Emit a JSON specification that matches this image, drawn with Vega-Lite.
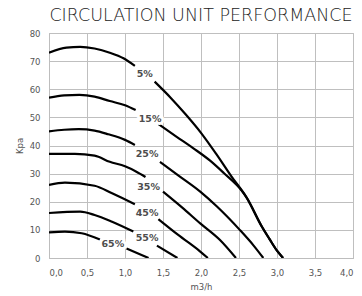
{
  "$schema": "https://vega.github.io/schema/vega-lite/v6.json",
  "width": 304,
  "height": 225,
  "autosize": {"type": "none"},
  "padding": {"left": 49, "top": 33, "right": 9, "bottom": 38},
  "background": "white",
  "title": {"text": "CIRCULATION UNIT PERFORMANCE", "font": "DejaVu Sans", "fontSize": 17.5, "fontWeight": 200, "color": "#222222", "offset": 5, "anchor": "middle"},
  "config": {
    "view": {"stroke": "#bdbdbd", "strokeWidth": 1},
    "axis": {
      "labelFont": "DejaVu Sans", "labelFontSize": 8.5, "labelColor": "#555555",
      "titleFont": "DejaVu Sans", "titleFontSize": 8.5, "titleColor": "#555555", "titleFontWeight": "normal",
      "gridColor": "#bfbfbf", "gridWidth": 1, "domainColor": "#bdbdbd",
      "ticks": false, "tickSize": 0
    }
  },
  "datasets": {
    "curves": [
      {"seg": "5a", "x": 0, "y": 73}, {"seg": "5a", "x": 0.23, "y": 74.8}, {"seg": "5a", "x": 0.41, "y": 75.1}, {"seg": "5a", "x": 0.6, "y": 74.5}, {"seg": "5a", "x": 0.8, "y": 73}, {"seg": "5a", "x": 0.98, "y": 71}, {"seg": "5a", "x": 1.13, "y": 68.3},
      {"seg": "5b", "x": 1.39, "y": 62.7}, {"seg": "5b", "x": 1.6, "y": 57}, {"seg": "5b", "x": 1.8, "y": 51}, {"seg": "5b", "x": 2.0, "y": 44.5}, {"seg": "5b", "x": 2.2, "y": 37}, {"seg": "5b", "x": 2.4, "y": 29}, {"seg": "5b", "x": 2.6, "y": 21.5}, {"seg": "5b", "x": 2.8, "y": 11.2}, {"seg": "5b", "x": 2.9, "y": 6.8}, {"seg": "5b", "x": 3.0, "y": 2.6}, {"seg": "5b", "x": 3.08, "y": 0},
      {"seg": "15a", "x": 0, "y": 57}, {"seg": "15a", "x": 0.2, "y": 57.8}, {"seg": "15a", "x": 0.4, "y": 58}, {"seg": "15a", "x": 0.6, "y": 57.4}, {"seg": "15a", "x": 0.8, "y": 55.8}, {"seg": "15a", "x": 1.0, "y": 54.3}, {"seg": "15a", "x": 1.14, "y": 52.6},
      {"seg": "15b", "x": 1.44, "y": 47.6}, {"seg": "15b", "x": 1.68, "y": 43.1}, {"seg": "15b", "x": 1.9, "y": 39}, {"seg": "15b", "x": 2.12, "y": 34.6}, {"seg": "15b", "x": 2.3, "y": 30.2}, {"seg": "15b", "x": 2.54, "y": 23.8}, {"seg": "15b", "x": 2.6, "y": 21.5}, {"seg": "15b", "x": 2.8, "y": 11.2}, {"seg": "15b", "x": 2.9, "y": 6.8}, {"seg": "15b", "x": 3.0, "y": 2.6}, {"seg": "15b", "x": 3.08, "y": 0},
      {"seg": "25a", "x": 0, "y": 45}, {"seg": "25a", "x": 0.2, "y": 45.6}, {"seg": "25a", "x": 0.39, "y": 45.8}, {"seg": "25a", "x": 0.6, "y": 45.3}, {"seg": "25a", "x": 0.78, "y": 44}, {"seg": "25a", "x": 1.0, "y": 42}, {"seg": "25a", "x": 1.13, "y": 40.2},
      {"seg": "25b", "x": 1.46, "y": 34.2}, {"seg": "25b", "x": 1.7, "y": 29.4}, {"seg": "25b", "x": 1.99, "y": 23.6}, {"seg": "25b", "x": 2.21, "y": 18.3}, {"seg": "25b", "x": 2.51, "y": 10}, {"seg": "25b", "x": 2.69, "y": 4.5}, {"seg": "25b", "x": 2.82, "y": 0},
      {"seg": "35a", "x": 0, "y": 37}, {"seg": "35a", "x": 0.34, "y": 37}, {"seg": "35a", "x": 0.6, "y": 36.4}, {"seg": "35a", "x": 0.8, "y": 34.2}, {"seg": "35a", "x": 1.0, "y": 32.6}, {"seg": "35a", "x": 1.15, "y": 30.7}, {"seg": "35a", "x": 1.27, "y": 28.8},
      {"seg": "35b", "x": 1.5, "y": 23.6}, {"seg": "35b", "x": 1.75, "y": 18}, {"seg": "35b", "x": 1.99, "y": 12.3}, {"seg": "35b", "x": 2.25, "y": 6.4}, {"seg": "35b", "x": 2.46, "y": 0},
      {"seg": "45a", "x": 0, "y": 26}, {"seg": "45a", "x": 0.21, "y": 26.8}, {"seg": "45a", "x": 0.6, "y": 25.7}, {"seg": "45a", "x": 0.83, "y": 23}, {"seg": "45a", "x": 1.13, "y": 19.1},
      {"seg": "45b", "x": 1.44, "y": 13.8}, {"seg": "45b", "x": 1.7, "y": 8.2}, {"seg": "45b", "x": 1.99, "y": 2.3}, {"seg": "45b", "x": 2.09, "y": 0},
      {"seg": "55a", "x": 0, "y": 16}, {"seg": "55a", "x": 0.41, "y": 16.5}, {"seg": "55a", "x": 0.6, "y": 15.3}, {"seg": "55a", "x": 0.83, "y": 12.9}, {"seg": "55a", "x": 1.11, "y": 9.4},
      {"seg": "55b", "x": 1.42, "y": 4.4}, {"seg": "55b", "x": 1.69, "y": 0},
      {"seg": "65a", "x": 0, "y": 9.1}, {"seg": "65a", "x": 0.21, "y": 9.4}, {"seg": "65a", "x": 0.43, "y": 8.8}, {"seg": "65a", "x": 0.67, "y": 6.6},
      {"seg": "65b", "x": 1.02, "y": 3.4}, {"seg": "65b", "x": 1.31, "y": 0}
    ],
    "labels": [
      {"label": "5%", "x": 1.26, "y": 65.4},
      {"label": "15%", "x": 1.33, "y": 49.5},
      {"label": "25%", "x": 1.29, "y": 37},
      {"label": "35%", "x": 1.31, "y": 25.1},
      {"label": "45%", "x": 1.29, "y": 16.1},
      {"label": "55%", "x": 1.29, "y": 7},
      {"label": "65%", "x": 0.84, "y": 4.9}
    ]
  },
  "encoding": {
    "x": {"field": "x", "type": "quantitative", "scale": {"domain": [0, 4], "nice": false},
      "axis": {"title": "m3/h", "values": [0, 0.5, 1, 1.5, 2, 2.5, 3, 3.5, 4], "labelExpr": "replace(format(datum.value, '.1f'), '.', ',')", "labelPadding": 10, "titlePadding": 6}},
    "y": {"field": "y", "type": "quantitative", "scale": {"domain": [0, 80], "nice": false},
      "axis": {"title": "Kpa", "values": [0, 10, 20, 30, 40, 50, 60, 70, 80], "labelPadding": 9, "titlePadding": 5}}
  },
  "layer": [
    {
      "data": {"name": "curves"},
      "mark": {"type": "line", "color": "black", "strokeWidth": 2.2, "interpolate": "monotone", "clip": true},
      "encoding": {"detail": {"field": "seg", "type": "nominal"}}
    },
    {
      "data": {"name": "labels"},
      "mark": {"type": "text", "font": "DejaVu Sans", "fontSize": 9.5, "fontWeight": "bold", "stroke": "white", "strokeWidth": 6, "fill": "white", "strokeJoin": "round"},
      "encoding": {"text": {"field": "label", "type": "nominal"}}
    },
    {
      "data": {"name": "labels"},
      "mark": {"type": "text", "font": "DejaVu Sans", "fontSize": 9.5, "fontWeight": "bold", "fill": "#4d4d4d"},
      "encoding": {"text": {"field": "label", "type": "nominal"}}
    }
  ]
}
